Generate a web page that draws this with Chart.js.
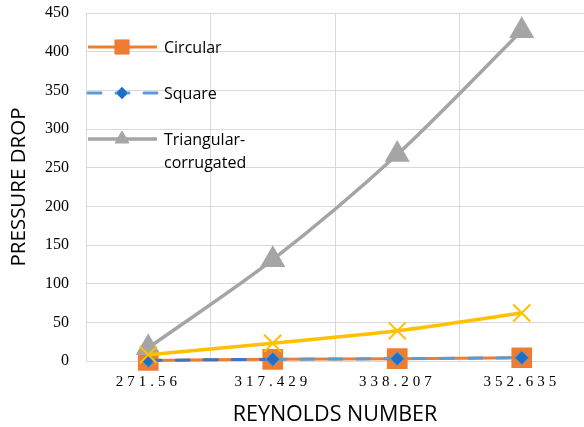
<!DOCTYPE html>
<html>
<head>
<meta charset="utf-8">
<script src="https://cdn.jsdelivr.net/npm/chart.js@4.4.1/dist/chart.umd.min.js"></script>
<style>
  html, body { margin: 0; padding: 0; background: #ffffff; }
  canvas { display: block; }
</style>
</head>
<body>
<canvas id="chart" width="584" height="427"></canvas>
<script>
// Reynolds numbers on the category axis
const reynolds = ['271.56', '317.429', '338.207', '352.635'];

// Pressure drop per channel geometry
const circular = [0.8, 2.2, 3, 4.2];
const square = [0.8, 2.2, 3, 4.2];
const triangular = [17, 131, 267, 427];
const fourthSeries = [8, 23, 39, 62];

// Value axis range
const yMin = 0;
const yMax = 450;
const yStep = 50;

const sansFont = '"Open Sans", "Noto Sans", sans-serif';
const serifFont = '"Liberation Serif", "DejaVu Serif", serif';

// Wider tracking for the x tick labels: they are drawn after the datasets (ticks.z = 1)
const spacedTicks = {
  id: 'spacedTicks',
  afterDatasetsDraw(chart) { chart.ctx.letterSpacing = '4px'; },
  afterDraw(chart) { chart.ctx.letterSpacing = '0px'; }
};

// Legend placed inside the plot, showing line + marker for the first three series
const insideLegend = {
  id: 'insideLegend',
  afterDraw(chart) {
    const ctx = chart.ctx;
    ctx.save();
    ctx.letterSpacing = '0px';
    const rows = [
      { index: 0, y: 47, r: 10, lines: ['Circular'] },
      { index: 1, y: 93, r: 6, lines: ['Square'] },
      { index: 2, y: 139, r: 8, lines: ['Triangular-', 'corrugated'] }
    ];
    const x0 = 88, x1 = 157, xm = 122, xt = 164;
    rows.forEach(row => {
      const ds = chart.data.datasets[row.index];
      ctx.save();
      ctx.strokeStyle = ds.borderColor;
      ctx.lineWidth = ds.borderWidth;
      ctx.lineCap = ds.borderCapStyle || 'butt';
      ctx.setLineDash(ds.borderDash || []);
      ctx.beginPath();
      ctx.moveTo(x0, row.y);
      ctx.lineTo(x1, row.y);
      ctx.stroke();
      ctx.restore();
      ctx.save();
      ctx.fillStyle = ds.pointBackgroundColor;
      ctx.strokeStyle = ds.pointBorderColor;
      ctx.lineWidth = 1;
      Chart.helpers.drawPoint(ctx, {
        pointStyle: ds.pointStyle,
        radius: row.r,
        rotation: 0,
        borderWidth: 1
      }, xm, row.y);
      ctx.restore();
      ctx.fillStyle = '#000000';
      ctx.font = '16px ' + sansFont;
      ctx.textBaseline = 'middle';
      ctx.textAlign = 'left';
      row.lines.forEach((t, i) => ctx.fillText(t, xt, row.y + 1 + i * 23));
    });
    ctx.restore();
  }
};

const gridColor = '#d9d9d9';

new Chart(document.getElementById('chart'), {
  type: 'line',
  data: {
    labels: reynolds,
    datasets: [
      {
        label: 'Circular',
        data: circular,
        borderColor: '#ED7D31',
        backgroundColor: '#ED7D31',
        pointBackgroundColor: '#ED7D31',
        pointBorderColor: '#ED7D31',
        pointStyle: 'rect',
        pointRadius: 12.5,
        borderWidth: 3,
        tension: 0.3,
        clip: false,
        order: 4
      },
      {
        label: 'Square',
        data: square,
        borderColor: '#5B9BD5',
        backgroundColor: '#1F6FC5',
        pointBackgroundColor: '#1F6FC5',
        pointBorderColor: '#5B9BD5',
        pointBorderWidth: 1,
        pointStyle: 'rectRot',
        pointRadius: 7,
        borderWidth: 3,
        borderDash: [13, 15],
        borderCapStyle: 'round',
        segment: {
          borderColor: ctx => (ctx.p0DataIndex === 0 ? '#4472C4' : undefined)
        },
        tension: 0.3,
        clip: false,
        order: 3
      },
      {
        label: 'Triangular-corrugated',
        data: triangular,
        borderColor: '#A5A5A5',
        backgroundColor: '#A5A5A5',
        pointBackgroundColor: '#A5A5A5',
        pointBorderColor: '#A5A5A5',
        pointStyle: 'triangle',
        pointRadius: 11,
        borderWidth: 3.5,
        tension: 0.3,
        clip: false,
        order: 2
      },
      {
        label: '',
        data: fourthSeries,
        borderColor: '#FFC000',
        backgroundColor: 'rgba(0,0,0,0)',
        pointBackgroundColor: 'rgba(0,0,0,0)',
        pointBorderColor: '#FFC000',
        pointStyle: 'crossRot',
        pointRadius: 12,
        pointBorderWidth: 2,
        borderWidth: 3.5,
        tension: 0.3,
        clip: false,
        order: 1
      }
    ]
  },
  options: {
    responsive: false,
    animation: false,
    devicePixelRatio: 1,
    layout: { autoPadding: false, padding: { top: 13, right: 0, bottom: 0, left: 0 } },
    plugins: {
      legend: { display: false },
      tooltip: { enabled: false }
    },
    scales: {
      x: {
        offset: true,
        grid: { color: gridColor, lineWidth: 1, drawTicks: false, offset: true },
        border: { color: gridColor, width: 1 },
        ticks: {
          color: '#000000',
          font: { family: serifFont, size: 15 },
          padding: 12,
          maxRotation: 0,
          z: 1
        },
        title: {
          display: true,
          text: 'REYNOLDS NUMBER',
          color: '#000000',
          font: { family: sansFont, size: 21.5 },
          padding: { top: 0, bottom: -1 }
        },
        afterFit(scale) {
          scale.height = 66;
          scale.paddingLeft = 0;
          scale.paddingRight = 0;
        }
      },
      y: {
        min: yMin,
        max: yMax,
        grid: { color: gridColor, lineWidth: 1, drawTicks: false },
        border: { color: gridColor, width: 1 },
        ticks: {
          stepSize: yStep,
          color: '#000000',
          font: { family: serifFont, size: 16 },
          padding: 17
        },
        title: {
          display: true,
          text: 'PRESSURE DROP',
          color: '#000000',
          font: { family: sansFont, size: 20.5 },
          padding: { top: 7, bottom: 0 }
        },
        afterFit(scale) {
          scale.width = 86;
          scale.paddingTop = 0;
          scale.paddingBottom = 0;
        }
      }
    }
  },
  plugins: [spacedTicks, insideLegend]
});
</script>
</body>
</html>
